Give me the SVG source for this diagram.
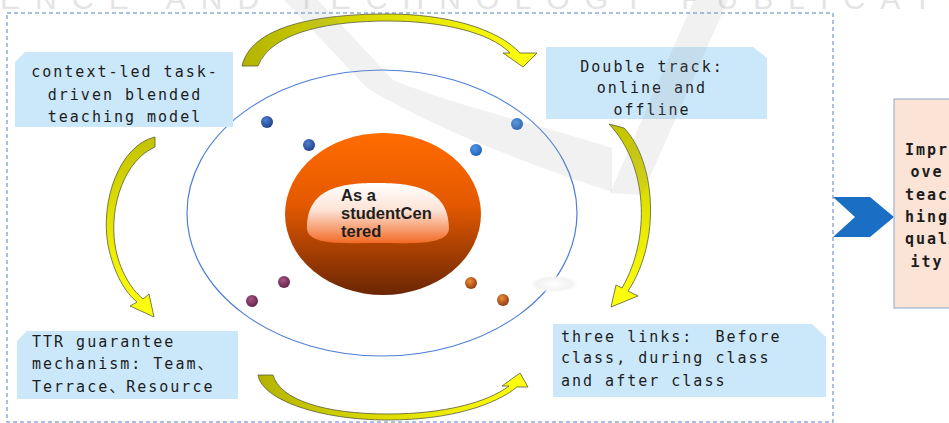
<svg xmlns="http://www.w3.org/2000/svg" width="949" height="423" viewBox="0 0 949 423">
  <defs>
    <style>
      .lbl { font-family: "DejaVu Sans Mono", "Noto Sans CJK SC", monospace; font-size: 15px; letter-spacing: 2px; fill: #1c1c1c; }
      .lbl-c { text-anchor: middle; }
      .box { fill: #cbe8fb; }
      .bend { stroke: #5a5a3a; stroke-width: 0.8; }
      .ring { fill: none; stroke: #4f7fd6; stroke-width: 1.2; }
      .wm { fill: #9a9a9a; opacity: 0.14; }
    </style>
    <linearGradient id="sphere" x1="0" y1="0" x2="0" y2="1">
      <stop offset="0" stop-color="#ff6c00"/>
      <stop offset="0.45" stop-color="#e35800"/>
      <stop offset="1" stop-color="#6a2604"/>
    </linearGradient>
    <linearGradient id="gloss" x1="0" y1="0" x2="0" y2="1">
      <stop offset="0" stop-color="#ffffff"/>
      <stop offset="0.45" stop-color="#fde3d6"/>
      <stop offset="1" stop-color="#f26a25"/>
    </linearGradient>
    <linearGradient id="yelH" x1="0" y1="0" x2="1" y2="0">
      <stop offset="0" stop-color="#b3b300"/>
      <stop offset="0.5" stop-color="#e0e000"/>
      <stop offset="1" stop-color="#ffff10"/>
    </linearGradient>
    <linearGradient id="yelV" x1="0" y1="0" x2="0" y2="1">
      <stop offset="0" stop-color="#c2c200"/>
      <stop offset="0.5" stop-color="#e6e600"/>
      <stop offset="1" stop-color="#ffff10"/>
    </linearGradient>
    <radialGradient id="dotBlueDk" cx="0.4" cy="0.35" r="0.7">
      <stop offset="0" stop-color="#4f7fd0"/>
      <stop offset="1" stop-color="#1d3f86"/>
    </radialGradient>
    <radialGradient id="dotBlue" cx="0.4" cy="0.35" r="0.7">
      <stop offset="0" stop-color="#4f97ea"/>
      <stop offset="1" stop-color="#1f5fb4"/>
    </radialGradient>
    <radialGradient id="dotPurple" cx="0.4" cy="0.35" r="0.7">
      <stop offset="0" stop-color="#a55486"/>
      <stop offset="1" stop-color="#5e2248"/>
    </radialGradient>
    <radialGradient id="dotOrange" cx="0.4" cy="0.35" r="0.7">
      <stop offset="0" stop-color="#f08a3c"/>
      <stop offset="1" stop-color="#8a3a0c"/>
    </radialGradient>
    <radialGradient id="cloud" cx="0.5" cy="0.5" r="0.5">
      <stop offset="0" stop-color="#ffffff"/>
      <stop offset="0.7" stop-color="#f2f2f2"/>
      <stop offset="1" stop-color="#ffffff" stop-opacity="0"/>
    </radialGradient>
  </defs>

  <rect width="949" height="423" fill="#ffffff"/>

  <!-- dashed frame around the cycle -->
  <rect x="7" y="13" width="826" height="409" fill="none" stroke="#8eaadb" stroke-width="1.5" stroke-dasharray="4 3"/>

  <!-- outer orbit -->
  <ellipse class="ring" cx="382" cy="213" rx="195" ry="143"/>
  <ellipse cx="554" cy="284" rx="26" ry="9" fill="url(#cloud)"/>

  <!-- core -->
  <g id="core">
    <ellipse cx="383" cy="214" rx="98" ry="81" fill="url(#sphere)"/>
    <path d="M307,228 C307,186 345,183 378,183 C412,183 449,188 449,228 C449,246 410,243 378,243 C346,243 307,246 307,228 Z" fill="url(#gloss)"/>
    <g font-family="Liberation Sans, Arial, sans-serif" font-weight="bold" font-size="16.5" fill="#1e1e1e">
      <text x="341" y="201">As a</text>
      <text x="341" y="219">studentCen</text>
      <text x="341" y="237">tered</text>
    </g>
  </g>

  <!-- orbiting dots -->
  <g id="dots">
    <circle cx="267" cy="122" r="6" fill="url(#dotBlueDk)"/>
    <circle cx="309" cy="145" r="6" fill="url(#dotBlueDk)"/>
    <circle cx="476" cy="150" r="6" fill="url(#dotBlue)"/>
    <circle cx="517" cy="124" r="6" fill="url(#dotBlue)"/>
    <circle cx="284" cy="282" r="6" fill="url(#dotPurple)"/>
    <circle cx="252" cy="301" r="6" fill="url(#dotPurple)"/>
    <circle cx="471" cy="283" r="6" fill="url(#dotOrange)"/>
    <circle cx="503" cy="300" r="6" fill="url(#dotOrange)"/>
  </g>

  <!-- curved block arrows linking the four stages -->
  <g id="connectors" class="bend">
    <path d="M242,66 C252,22 330,14 388,14 C445,14 497,28 520,53 L537,53 L523,67 L503,53 L510,53 C490,32 440,21 388,21 C335,21 272,30 258,66 Z" fill="url(#yelH)"/>
    <path d="M609,124 L624,128 C655,160 662,240 628,291 L638,296 L611,307 L616,285 L622,288 C651,238 648,165 609,124 Z" fill="url(#yelV)"/>
    <path d="M155,137 C120,145 100,200 108,245 C114,275 126,293 137,302 L130,306 L154,317 L149,294 L143,299 C131,289 119,270 115,245 C109,205 125,160 155,147 Z" fill="url(#yelV)"/>
    <path d="M258,375 C262,400 320,420 388,420 C450,420 495,405 517,387 L528,387 L520,373 L502,386 L509,386 C488,402 445,414 388,414 C325,414 280,400 273,375 Z" fill="url(#yelH)"/>
  </g>

  <!-- stage boxes -->
  <g id="node-model">
    <path class="box" d="M15,62 L25,52 L233,52 L233,127 L15,127 Z"/>
    <text class="lbl lbl-c" x="125" y="77">context-led task-</text>
    <text class="lbl lbl-c" x="125" y="100">driven blended</text>
    <text class="lbl lbl-c" x="125" y="122">teaching model</text>
  </g>
  <g id="node-track">
    <path class="box" d="M546,47 L753,47 L767,58 L767,119 L546,119 Z"/>
    <text class="lbl lbl-c" x="652" y="72">Double track:</text>
    <text class="lbl lbl-c" x="652" y="93">online and</text>
    <text class="lbl lbl-c" x="652" y="115">offline</text>
  </g>
  <g id="node-ttr">
    <path class="box" d="M17,341 L27,331 L238,331 L238,399 L17,399 Z"/>
    <text class="lbl" x="32" y="347">TTR guarantee</text>
    <text class="lbl" x="32" y="369">mechanism: Team、</text>
    <text class="lbl" x="32" y="392">Terrace、Resource</text>
  </g>
  <g id="node-links">
    <path class="box" d="M553,324 L812,324 L826,337 L826,397 L553,397 Z"/>
    <text class="lbl" x="561" y="342" xml:space="preserve">three links:  Before</text>
    <text class="lbl" x="561" y="363">class, during class</text>
    <text class="lbl" x="561" y="386">and after class</text>
  </g>

  <!-- outcome -->
  <g id="chevron">
    <polygon points="833,197 870,197 894,217 870,237 833,237 855,217" fill="#1a6fc4"/>
  </g>
  <g id="node-quality">
    <rect x="894" y="99" width="70" height="209" fill="#fbe3d6" stroke="#8ea6cf" stroke-width="1"/>
    <g class="lbl lbl-c" font-weight="bold">
      <text x="927" y="155">Impr</text>
      <text x="927" y="177">ove</text>
      <text x="927" y="200">teac</text>
      <text x="927" y="222">hing</text>
      <text x="927" y="244">qual</text>
      <text x="927" y="267">ity</text>
    </g>
  </g>

  <!-- publisher watermark -->
  <g id="watermark">
    <text x="0" y="9" font-family="Liberation Sans, Arial, sans-serif" font-size="30" textLength="955" lengthAdjust="spacing" fill="#e4e4e4">ENCE AND TECHNOLOGY PUBLICATI</text>
    <path class="wm" d="M284,0 L318,0 L393,80 C450,104 540,125 612,148 L612,192 C540,168 440,132 367,88 Z"/>
    <path class="wm" d="M694,0 L728,0 L642,195 L610,193 Z"/>
  </g>
</svg>
